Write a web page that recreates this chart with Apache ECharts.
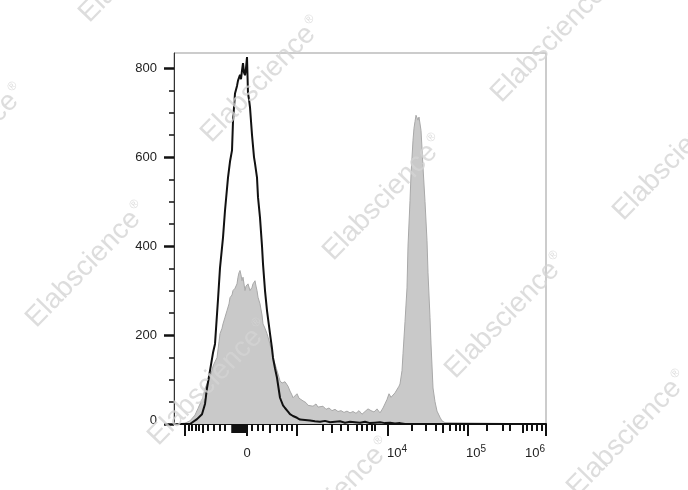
<!DOCTYPE html>
<html>
<head>
<meta charset="utf-8">
<script src="https://cdn.jsdelivr.net/npm/echarts@6/dist/echarts.min.js"></script>
<style>html,body{margin:0;padding:0;background:#fff}#c{width:688px;height:490px}</style>
</head>
<body>
<div id="c"></div>
<script>
// Display (biexponential) channel units: 0..372 across the plot
var grayX = [2,11,16,21,24,26,29,31,34,36,39,41,43,45,46,48,49,51,53,55,56,58,59,61,63,64,65,66,67,68,69,71,72,74,76,78,79,81,82,83,84,86,88,89,91,93,96,98,99,101,103,105,106,108,109,111,113,114,116,118,119,121,123,125,127,129,132,134,136,139,142,144,146,149,152,155,158,161,164,167,170,173,176,179,182,185,188,191,194,197,200,203,206,209,211,213,215,217,219,221,223,225,226,228,229,231,233,234,236,237,239,240,241,242,243,244,245,246,247,248,249,251,253,254,256,257,259,261,263,266,268,271,273,372];
var grayY = [0,2,7,20,35,45,60,80,95,104,130,140,149,185,203,215,225,240,255,270,284,290,300,305,315,330,340,345,335,322,330,300,310,315,300,307,315,322,310,300,285,270,245,225,215,203,180,160,149,135,120,105,97,92,90,95,97,85,74,65,59,62,68,58,55,52,48,42,45,40,45,38,36,40,33,36,30,33,28,30,26,29,25,28,24,30,22,28,34,30,27,34,25,36,40,55,68,60,59,70,74,85,90,120,158,230,306,400,502,560,638,665,680,694,698,683,690,694,660,620,577,500,412,340,239,180,81,50,29,15,7,3,0,0];
var blackX = [2,16,23,28,31,33,36,39,41,44,46,49,51,54,56,58,59,61,63,64,66,67,68,69,70,71,72,73,74,75,76,78,80,81,83,84,86,88,89,91,93,96,98,99,101,103,106,109,111,114,116,119,123,126,131,136,141,146,151,156,161,166,171,176,181,186,191,196,201,206,211,216,221,226,231,372];
var blackY = [0,0,11,22,45,81,120,160,180,280,351,419,480,554,590,615,680,743,760,772,785,775,795,811,790,784,800,825,743,730,712,650,600,586,554,510,464,400,360,300,255,203,170,149,125,104,59,42,36,28,22,18,14,10,9,8,6,5,7,4,5,6,3,5,4,3,5,2,3,4,2,3,1,2,0,0];

var yMajor = [0,200,400,600,800];
var yMinor = [50,100,150,250,300,350,450,500,550,650,700,750];
var xMajorTicks = [11,73,123,214,294,372];
var xMediumTicks = [29,96,158,269,349];
var xMinorTicks = [15,18,22,25,34,40,46,51,78,84,89,103,108,113,118,149,167,174,183,188,193,198,201,238,252,262,276,282,286,290,313,329,336,353,358,363,368];
var xZeroBlock = [58,59,60,61,62,63,64,65,66,67,68,69,70,71,72,73];
var xLabelPos = [73,223,302,361];
var xLabelText = ['{n|0}','{n|10}{s|4}','{n|10}{s|5}','{n|10}{s|6}'];

function pairs(xs, ys){ return xs.map(function(x,i){ return [x, ys[i]]; }); }

var FONT = 'Liberation Sans, Arial, sans-serif';
var chart = echarts.init(document.getElementById('c'));

function tickAxis(vals, len, width, extra){
  var a = {
    type:'value', gridIndex:0, position:'bottom', offset:0, min:0, max:372,
    axisLine:{show:false}, splitLine:{show:false},
    axisTick:{show:true, customValues:vals, length:len, lineStyle:{color:'#111', width:width}},
    axisLabel:{show:false}
  };
  if (extra) for (var k in extra) a[k] = extra[k];
  return a;
}

var WM = 'rgba(212,212,212,0.78)';
var wm = [];
var centers = [[140,-40],[262,80],[384,198],[506,316],[628,434],[-35,147],[87,265],[209,383],[331,501],[430,-78],[552,40],[674,158]];
centers.forEach(function(c){
  wm.push({
    type:'text', x:c[0], y:c[1], rotation:0.8, silent:true, z:100,
    style:{
      text:'{a|Elabscience}{b|®}', align:'center', verticalAlign:'middle',
      rich:{a:{fontSize:28, fontFamily:FONT, fill:WM}, b:{fontSize:12, fontFamily:FONT, fill:WM, verticalAlign:'top', padding:[0,0,14,2]}}
    }
  });
});

chart.setOption({
  animation:false,
  backgroundColor:'#fff',
  grid:{left:174, right:142, top:53, bottom:66, show:true, borderColor:'#999', borderWidth:1, containLabel:false},
  xAxis:[
    tickAxis(xMajorTicks, 12, 2, {axisLine:{show:true, lineStyle:{color:'#111', width:2}}}),
    tickAxis(xMediumTicks, 9, 2),
    tickAxis(xMinorTicks, 7, 2),
    tickAxis(xZeroBlock, 9, 1.5),
    {
      type:'value', gridIndex:0, position:'bottom', offset:0, min:0, max:372,
      axisLine:{show:false}, axisTick:{show:false}, splitLine:{show:false},
      axisLabel:{show:true, customValues:xLabelPos, margin:20,
        formatter:function(v){ var i = xLabelPos.indexOf(v); return i>=0 ? xLabelText[i] : ''; },
        rich:{n:{fontSize:13, fontFamily:FONT, color:'#222', lineHeight:16, verticalAlign:'bottom'},
              s:{fontSize:10, fontFamily:FONT, color:'#222', lineHeight:16, verticalAlign:'top', padding:[0,0,6,0]}}}
    }
  ],
  yAxis:[
    {
      type:'value', gridIndex:0, position:'left', min:0, max:834,
      axisLine:{show:true, lineStyle:{color:'#333', width:1}},
      splitLine:{show:false},
      axisTick:{show:true, customValues:yMajor, length:10, lineStyle:{color:'#111', width:2.5}},
      axisLabel:{show:true, customValues:yMajor, margin:17, fontSize:13, fontFamily:FONT, color:'#222',
        formatter:function(v){ return v===0 ? '{z|0}' : String(v); },
        rich:{z:{fontSize:13, fontFamily:FONT, color:'#222', padding:[0,0,8,0]}}}
    },
    {
      type:'value', gridIndex:0, position:'left', offset:0, min:0, max:834,
      axisLine:{show:false}, splitLine:{show:false}, axisLabel:{show:false},
      axisTick:{show:true, customValues:yMinor, length:5, lineStyle:{color:'#111', width:1.5}}
    }
  ],
  series:[
    {type:'line', xAxisIndex:0, yAxisIndex:0, data:pairs(grayX, grayY), showSymbol:false, smooth:false,
     lineStyle:{color:'#a8a8a8', width:1}, areaStyle:{color:'#c9c9c9', opacity:1}, z:2},
    {type:'line', xAxisIndex:0, yAxisIndex:0, data:pairs(blackX, blackY), showSymbol:false, smooth:false,
     lineStyle:{color:'#111', width:2}, z:3}
  ],
  graphic: wm
});
</script>
</body>
</html>
